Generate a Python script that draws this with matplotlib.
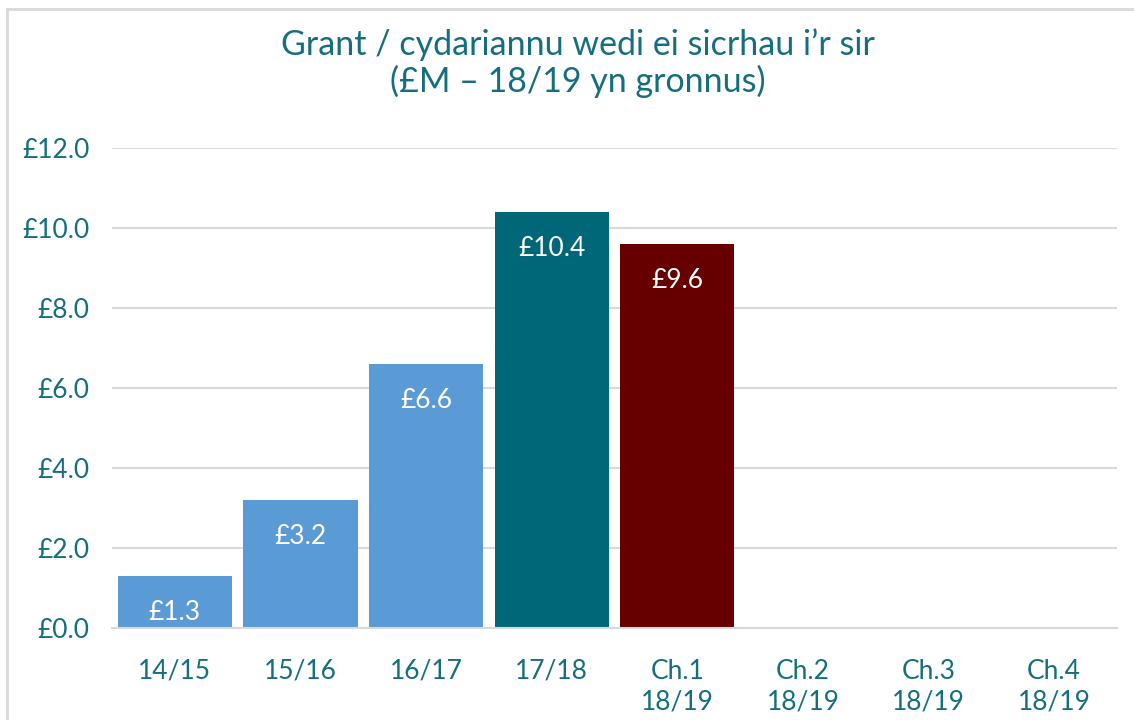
import matplotlib
matplotlib.use("Agg")
import matplotlib.pyplot as plt
from matplotlib.lines import Line2D

categories = ["14/15", "15/16", "16/17", "17/18", "Ch.1\n18/19", "Ch.2\n18/19", "Ch.3\n18/19", "Ch.4\n18/19"]
values = [1.3, 3.2, 6.6, 10.4, 9.6, None, None, None]
labels = ["£1.3", "£3.2", "£6.6", "£10.4", "£9.6", "", "", ""]
bar_colors = ["#5B9BD5", "#5B9BD5", "#5B9BD5", "#006778", "#660000", "#5B9BD5", "#5B9BD5", "#5B9BD5"]
yticks = [0, 2, 4, 6, 8, 10, 12]
ytick_labels = ["£0.0", "£2.0", "£4.0", "£6.0", "£8.0", "£10.0", "£12.0"]
title = "Grant / cydariannu wedi ei sicrhau i’r sir\n(£M – 18/19 yn gronnus)"

TEXT = "#156E7D"
GRID = "#D9D9D9"

plt.rcParams['font.family'] = ['Lato', 'DejaVu Sans']

fig = plt.figure(figsize=(11.34, 7.2), dpi=100)
ax = fig.add_axes([112/1134, 92/720, 1005/1134, 480/720])

xs = list(range(len(categories)))
for x, v, c, lab in zip(xs, values, bar_colors, labels):
    if v is None:
        continue
    ax.bar(x, v, width=0.91, color=c, zorder=3)
    ax.annotate(lab, (x, v), xytext=(0, -37), textcoords="offset pixels",
                ha="center", va="center", color="white", fontsize=19, zorder=4)

ax.set_xlim(-0.5, len(categories) - 0.5)
ax.set_ylim(0, 12)
ax.set_yticks(yticks)
ax.set_yticklabels(ytick_labels)
ax.set_xticks(xs)
ax.set_xticklabels(categories, linespacing=1.3)
ax.tick_params(axis="both", length=0, colors=TEXT, labelsize=19)
ax.tick_params(axis="x", pad=22)
ax.tick_params(axis="y", pad=16)
ax.grid(axis="y", color=GRID, linewidth=1.5, zorder=0)
for s in ["top", "right", "left"]:
    ax.spines[s].set_visible(False)
ax.spines["bottom"].set_color(GRID)
ax.spines["bottom"].set_linewidth(1.5)
ax.spines["bottom"].set_zorder(5)

fig.text(578/1134, 1 - 63/720, title, ha="center", va="center", color=TEXT,
         fontsize=24.5, linespacing=1.12)

# outer chart border (top and left visible)
fig.add_artist(Line2D([7/1134, 7/1134], [0, 1 - 9/720], transform=fig.transFigure, color=GRID, linewidth=2))
fig.add_artist(Line2D([7/1134, 1], [1 - 9/720, 1 - 9/720], transform=fig.transFigure, color=GRID, linewidth=2))

fig.savefig("out.png", dpi=100)
